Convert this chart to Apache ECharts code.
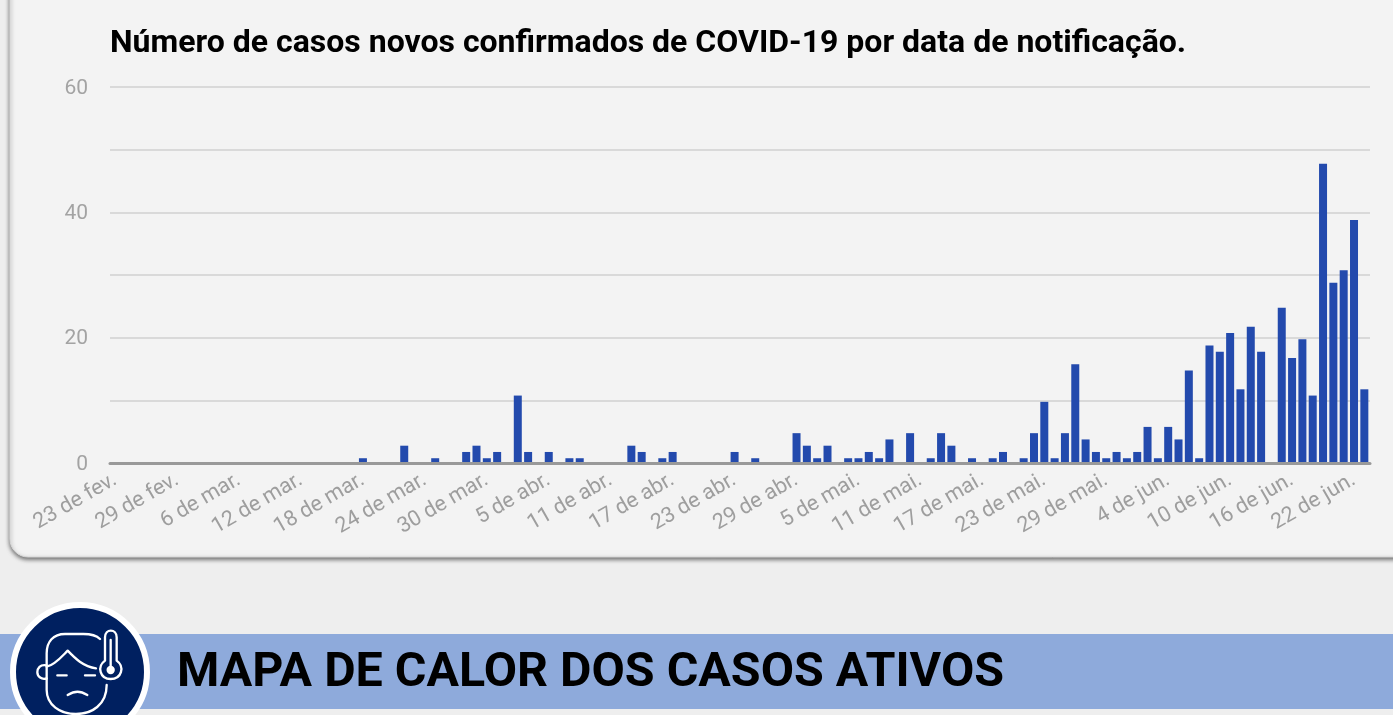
<!DOCTYPE html>
<html><head><meta charset="utf-8">
<style>html,body{margin:0;padding:0;background:#eeeeee;overflow:hidden}#c{position:absolute;left:0;top:0;width:1393px;height:715px}#i{position:absolute;left:0;top:440px}</style>
<script src="https://cdn.jsdelivr.net/npm/echarts@6/dist/echarts.min.js"></script>
</head><body><div id="c"></div>
<svg id="i" width="460" height="275" viewBox="0 0 1380 825" fill="none" stroke="#fff" stroke-width="7" stroke-linecap="round" stroke-linejoin="round">
<path d="M300 597C285 582 265 582 250 582L195 582C160 582 140 605 140 640L140 750C140 795 180 822 228 822C275 822 320 795 320 735"/>
<path d="M140 680C165 675 185 650 203 632C225 655 250 680 288 685"/>
<path d="M140 676C120 672 112 685 112 697C112 710 125 720 140 715"/>
<path d="M172 706L200 706M255 706L285 706"/>
<path d="M203 765C225 752 240 752 262 765"/>
<path d="M315 662L315 592C315 565 350 565 350 592L350 662C375 680 365 717 332 717C300 717 290 680 315 662Z"/>
<path d="M332 600L332 690"/><circle cx="332" cy="690" r="9" fill="#fff"/>
</svg>
<script>
const categories=["23 de fev.","24 de fev.","25 de fev.","26 de fev.","27 de fev.","28 de fev.","29 de fev.",
"1 de mar.","2 de mar.","3 de mar.","4 de mar.","5 de mar.","6 de mar.","7 de mar.","8 de mar.","9 de mar.","10 de mar.","11 de mar.","12 de mar.","13 de mar.","14 de mar.","15 de mar.","16 de mar.","17 de mar.","18 de mar.","19 de mar.","20 de mar.","21 de mar.","22 de mar.","23 de mar.","24 de mar.","25 de mar.","26 de mar.","27 de mar.","28 de mar.","29 de mar.","30 de mar.","31 de mar.",
"1 de abr.","2 de abr.","3 de abr.","4 de abr.","5 de abr.","6 de abr.","7 de abr.","8 de abr.","9 de abr.","10 de abr.","11 de abr.","12 de abr.","13 de abr.","14 de abr.","15 de abr.","16 de abr.","17 de abr.","18 de abr.","19 de abr.","20 de abr.","21 de abr.","22 de abr.","23 de abr.","24 de abr.","25 de abr.","26 de abr.","27 de abr.","28 de abr.","29 de abr.","30 de abr.",
"1 de mai.","2 de mai.","3 de mai.","4 de mai.","5 de mai.","6 de mai.","7 de mai.","8 de mai.","9 de mai.","10 de mai.","11 de mai.","12 de mai.","13 de mai.","14 de mai.","15 de mai.","16 de mai.","17 de mai.","18 de mai.","19 de mai.","20 de mai.","21 de mai.","22 de mai.","23 de mai.","24 de mai.","25 de mai.","26 de mai.","27 de mai.","28 de mai.","29 de mai.","30 de mai.","31 de mai.",
"1 de jun.","2 de jun.","3 de jun.","4 de jun.","5 de jun.","6 de jun.","7 de jun.","8 de jun.","9 de jun.","10 de jun.","11 de jun.","12 de jun.","13 de jun.","14 de jun.","15 de jun.","16 de jun.","17 de jun.","18 de jun.","19 de jun.","20 de jun.","21 de jun.","22 de jun.","23 de jun."];
const casos=[0,0,0,0,0,0,0,0,0,0,
0,0,0,0,0,0,0,0,0,0,
0,0,0,0,1,0,0,0,3,0,
0,1,0,0,2,3,1,2,0,11,
2,0,2,0,1,1,0,0,0,0,
3,2,0,1,2,0,0,0,0,0,
2,0,1,0,0,0,5,3,1,3,
0,1,1,2,1,4,0,5,0,1,
5,3,0,1,0,1,2,0,1,5,
10,1,5,16,4,2,1,2,1,2,
6,1,6,4,15,1,19,18,21,12,
22,18,0,25,17,20,11,48,29,31,
39,12];
const titulo="Número de casos novos confirmados de COVID-19 por data de notificação.";
const faixa="MAPA DE CALOR DOS CASOS ATIVOS";
const chart=echarts.init(document.getElementById('c'));
chart.setOption({
 animation:false,
 backgroundColor:'#eeeeee',
 textStyle:{fontFamily:'Roboto'},
 title:{text:titulo,left:110,top:28,padding:0,textStyle:{fontFamily:'Roboto',fontWeight:'bold',fontSize:32,color:'#000'}},
 grid:[
  {left:110,top:88.5,width:1259.5,height:376},
  {left:110,top:87,width:1260,height:376}
 ],
 xAxis:[
  {type:'category',gridIndex:0,data:categories,
   axisLine:{show:false},axisTick:{show:false},
   axisLabel:{interval:5,rotate:30,color:'#9e9e9e',fontSize:21.5,fontFamily:'Roboto',margin:14}},
  {type:'value',gridIndex:1,min:0,max:1,splitLine:{show:false},axisTick:{show:false},axisLabel:{show:false},
   z:5,axisLine:{lineStyle:{color:'#999999',width:3}}}
 ],
 yAxis:[
  {type:'value',gridIndex:0,min:0,max:60,interval:20,
   axisLine:{show:false},axisTick:{show:false},splitLine:{show:false},
   axisLabel:{color:'#a3a3a3',fontSize:21,fontFamily:'Roboto',margin:22}},
  {type:'value',gridIndex:1,min:0,max:60,interval:10,z:1,
   axisLine:{show:false},axisTick:{show:false},axisLabel:{show:false},
   splitLine:{lineStyle:{color:'#d9d9d9',width:2}}}
 ],
 series:[{type:'bar',xAxisIndex:0,yAxisIndex:0,data:casos,barWidth:8,z:2,itemStyle:{color:'#234aad'}}],
 graphic:[
  {type:'rect',z:-10,silent:true,shape:{x:10,y:-30,width:1420,height:587,r:18},style:{fill:'#f3f3f3',stroke:'#d8d8d8',lineWidth:1,shadowBlur:4,shadowOffsetY:2,shadowColor:'rgba(0,0,0,0.55)'}},
  {type:'rect',z:-10,silent:true,shape:{x:0,y:634,width:1393,height:75},style:{fill:'#8eaadb'}},
  {type:'circle',z:-9,silent:true,shape:{cx:80,cy:672,r:67},style:{fill:'#002060',stroke:'#fff',lineWidth:6}},
  {type:'text',z:-8,silent:true,style:{x:177,y:674,text:faixa,fill:'#000',font:'bold 48.4px Roboto',textVerticalAlign:'middle'}}
 ]
});
</script></body></html>
